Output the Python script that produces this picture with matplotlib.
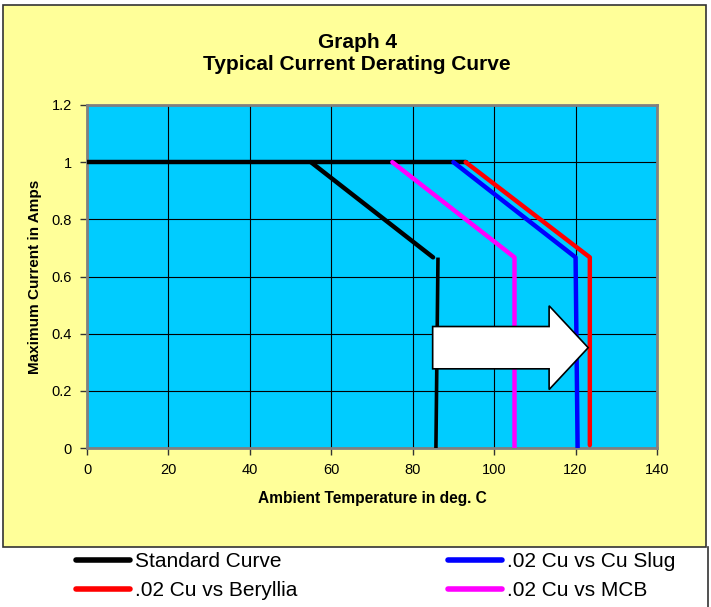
import matplotlib
matplotlib.use("Agg")
import matplotlib.pyplot as plt
from matplotlib.patches import Rectangle, FancyArrow
from matplotlib.lines import Line2D

plt.rcParams['font.family'] = ['Liberation Sans', 'DejaVu Sans']

# ---- data ----
title_lines = ["Graph 4", "Typical Current Derating Curve"]
x_label = "Ambient Temperature in deg. C"
y_label = "Maximum Current in Amps"
x_ticks = [0, 20, 40, 60, 80, 100, 120, 140]
y_ticks = [0, 0.2, 0.4, 0.6, 0.8, 1.0, 1.2]
y_tick_labels = ["0", "0.2", "0.4", "0.6", "0.8", "1", "1.2"]

series_names = ["Standard Curve", ".02 Cu vs Cu Slug", ".02 Cu vs Beryllia", ".02 Cu vs MCB"]
series_colors = ["#000000", "#0000FF", "#FF0000", "#FF00FF"]

std_flat_x = [0, 93]
std_flat_y = [1.0, 1.0]
std_x = [55, 85]
std_y = [1.0, 0.667]
std_drop_x = [86.2, 85.7]
std_drop_y = [0.66, 0.0]

slug_x = [90, 120, 120.5]
slug_y = [1.0, 0.667, 0.0]

beryllia_x = [93, 123.5, 123.5]
beryllia_y = [1.0, 0.667, 0.01]

mcb_x = [75, 105, 105]
mcb_y = [1.0, 0.667, 0.0]

# ---- figure ----
W, H = 711, 607
fig = plt.figure(figsize=(W / 100, H / 100), dpi=100)
fig.patch.set_facecolor("white")

def fx(px):
    return px / W

def fy(py):
    return 1 - py / H

# yellow chart area
bg = Rectangle((fx(3), fy(547)), fx(706) - fx(3), fy(5) - fy(547),
               transform=fig.transFigure, facecolor="#FFFF99",
               edgecolor="#333333", linewidth=1.2, zorder=-5)
fig.add_artist(bg)
# right border continuing down past legend
fig.add_artist(Line2D([fx(708), fx(708)], [fy(547), 0], transform=fig.transFigure,
                      color="#333333", linewidth=1.2, zorder=-5))

ax = fig.add_axes([fx(87), fy(448), fx(657) - fx(87), fy(105) - fy(448)])
ax.set_zorder(2)
ax.set_facecolor("#00CCFF")
ax.set_xlim(0, 140)
ax.set_ylim(0, 1.2)
ax.set_xticks(x_ticks)
ax.set_xticklabels([str(t) for t in x_ticks], fontsize=10.5)
ax.set_yticks(y_ticks)
ax.set_yticklabels(y_tick_labels, fontsize=10.5)
ax.tick_params(direction="out", length=5, width=1, color="#333333", pad=6)
ax.grid(True, color="black", linewidth=0.8)
ax.set_axisbelow(True)
for s in ax.spines.values():
    s.set_color("#808080")
    s.set_linewidth(2)

lw = 3.2
ax.plot(std_flat_x, std_flat_y, color=series_colors[0], lw=lw, solid_capstyle="round", zorder=3)
h_std, = ax.plot(std_x, std_y, color=series_colors[0], lw=lw, solid_capstyle="round", zorder=3)
ax.plot(std_drop_x, std_drop_y, color=series_colors[0], lw=2.6, zorder=3)
h_slug, = ax.plot(slug_x, slug_y, color=series_colors[1], lw=lw, solid_capstyle="round", zorder=4)
h_ber, = ax.plot(beryllia_x, beryllia_y, color=series_colors[2], lw=lw, solid_capstyle="round", zorder=4)
h_mcb, = ax.plot(mcb_x, mcb_y, color=series_colors[3], lw=lw, solid_capstyle="round", zorder=4)

# block arrow annotation
arrow = FancyArrow(84.9, 0.351, 38.2, 0, width=0.148, head_width=0.293, head_length=9.6,
                   length_includes_head=True, facecolor="white", edgecolor="black",
                   linewidth=1.2, zorder=6)
ax.add_patch(arrow)

ax.set_xlabel(x_label, fontsize=11.2, fontweight="bold", labelpad=10)
ax.set_ylabel(y_label, fontsize=11, fontweight="bold", labelpad=7)

fig.text(fx(357), fy(43), title_lines[0], ha="center", va="center", fontsize=15, fontweight="bold")
fig.text(fx(357), fy(64), title_lines[1], ha="center", va="center", fontsize=15, fontweight="bold")

# legend (column-major order to match reference rows)
handles = [h_std, h_ber, h_slug, h_mcb]
labels = [series_names[0], series_names[2], series_names[1], series_names[3]]
leg = fig.legend(handles, labels, ncol=2, loc="upper left",
                 bbox_to_anchor=(fx(76), fy(552)), frameon=False,
                 fontsize=15, handlelength=2.6, handletextpad=0.25,
                 columnspacing=7.2, labelspacing=0.5, borderpad=0, borderaxespad=0)
for l in leg.get_lines():
    l.set_linewidth(4)

fig.savefig("out.png", dpi=100)
